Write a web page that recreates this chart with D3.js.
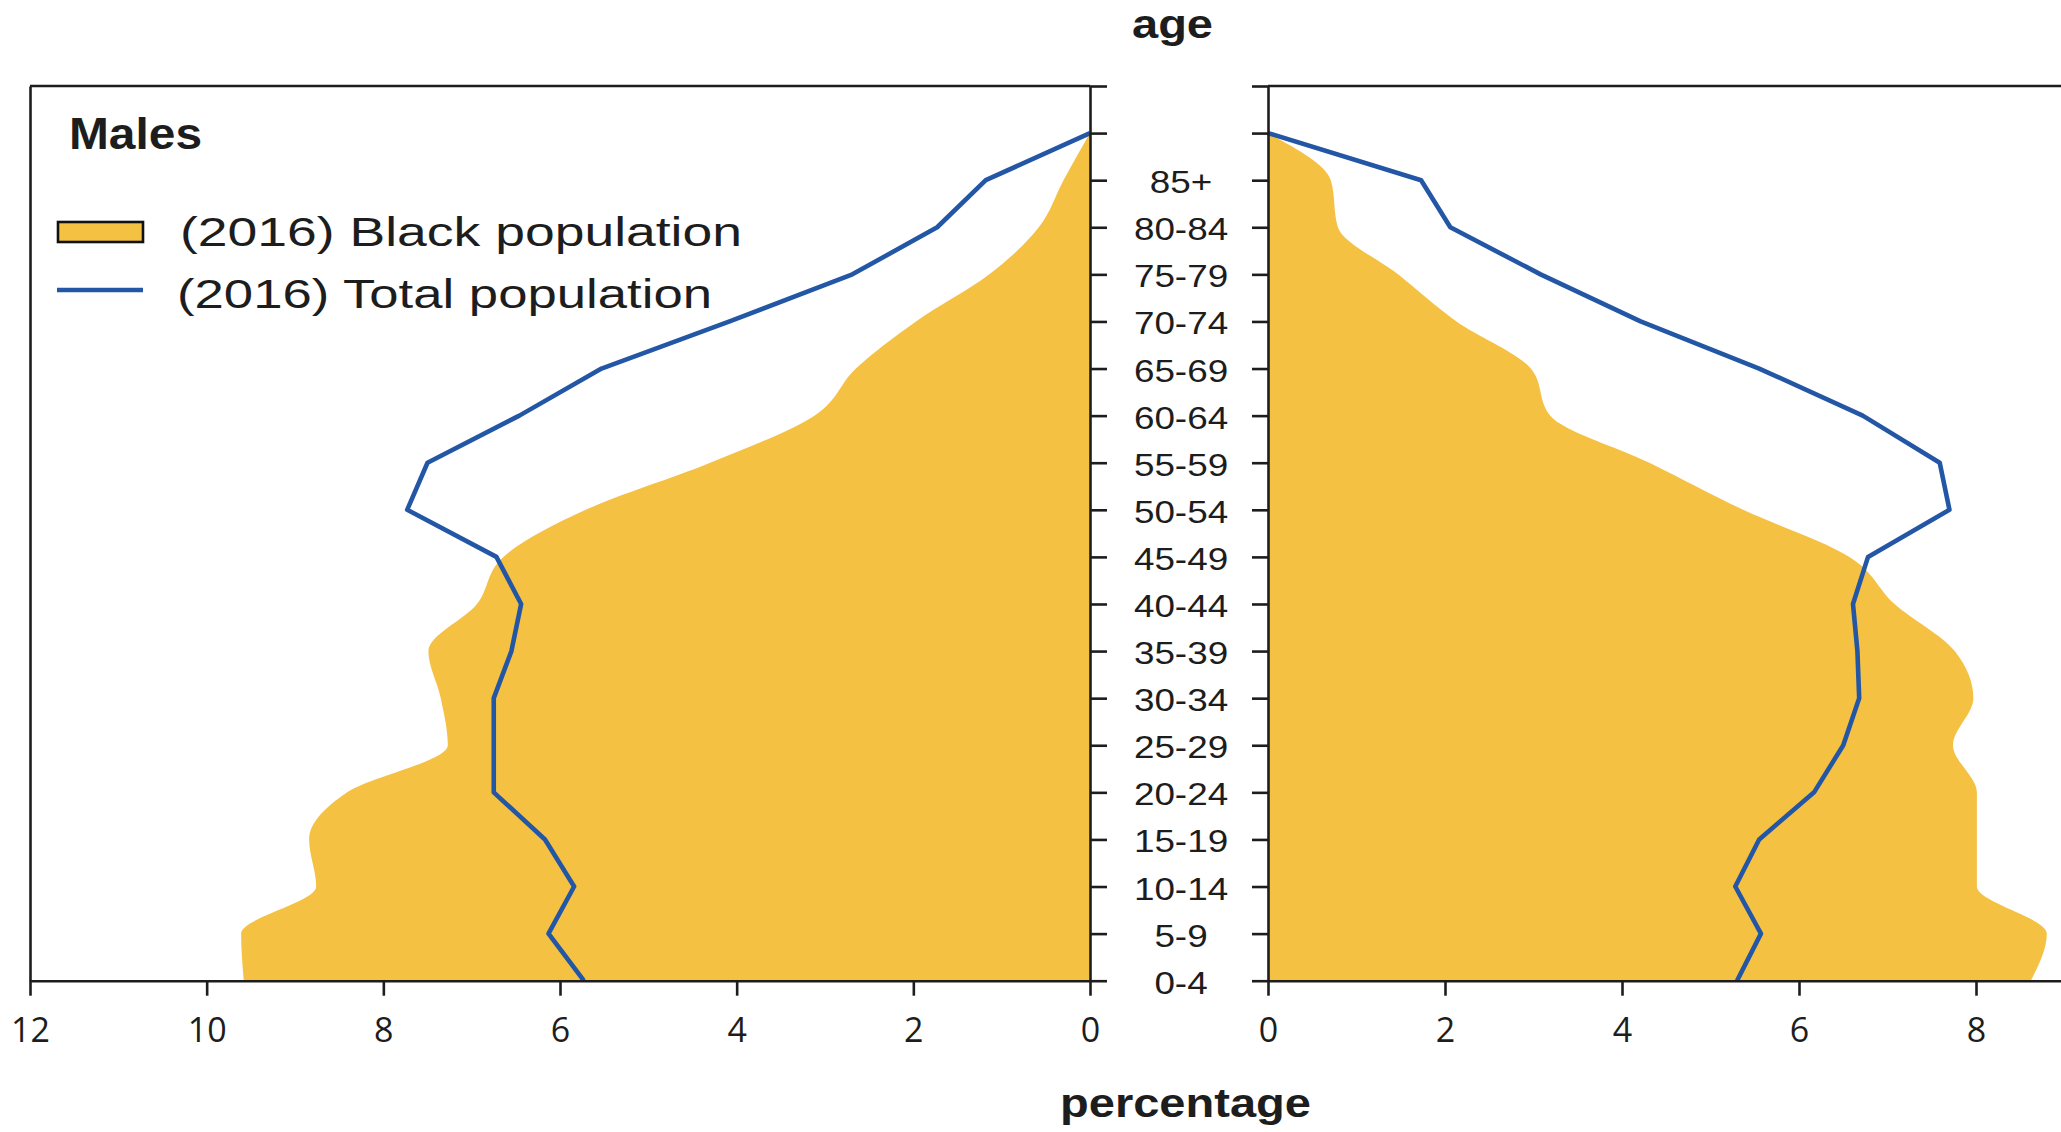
<!DOCTYPE html>
<html>
<head>
<meta charset="utf-8">
<script src="https://cdn.jsdelivr.net/npm/d3@7/dist/d3.min.js"></script>
<style>
  html, body { margin: 0; padding: 0; background: #fff; }
  svg { display: block; }
</style>
</head>
<body>
<svg id="chart" width="2061" height="1132"></svg>
<script>
// Age groups, bottom to top; the extra "" row is where both profiles close to zero.
const ageGroups = ["0-4","5-9","10-14","15-19","20-24","25-29","30-34","35-39","40-44",
                   "45-49","50-54","55-59","60-64","65-69","70-74","75-79","80-84","85+",""];

// Share of each age group (%), 2016
const maleBlack   = [9.58, 9.61, 8.76, 8.84, 8.41, 7.27, 7.35, 7.49, 6.94, 6.64, 5.71, 4.30, 3.12, 2.65, 1.97, 1.14, 0.58, 0.30, 0];
const maleTotal   = [5.73, 6.13, 5.84, 6.17, 6.75, 6.75, 6.75, 6.55, 6.44, 6.72, 7.73, 7.50, 6.46, 5.53, 4.08, 2.69, 1.73, 1.18, 0];
const femaleBlack = [8.62, 8.80, 8.01, 8.01, 8.01, 7.74, 7.97, 7.76, 7.08, 6.57, 5.37, 4.31, 3.19, 2.97, 2.13, 1.47, 0.79, 0.71, 0];
const femaleTotal = [5.30, 5.57, 5.28, 5.55, 6.17, 6.50, 6.68, 6.66, 6.61, 6.78, 7.70, 7.59, 6.72, 5.55, 4.21, 3.08, 2.06, 1.73, 0];

// Percentage ticks
const leftTicks  = [12, 10, 8, 6, 4, 2, 0];
const rightTicks = [0, 2, 4, 6, 8];

// Legend / titles
const panelTitle = "Males";
const legendLabels = ["(2016) Black population", "(2016) Total population"];
const yTitle = "age";
const xTitle = "percentage";

const YELLOW = "#f5c143";
const BLUE = "#2357a6";
const INK = "#1d1d1d";
const SANS = "'Liberation Sans', Arial, Helvetica, sans-serif";

const svg = d3.select("#chart");

// Row index → vertical position (index 19 is the frame top)
const y = d3.scaleLinear().domain([0, 19]).range([980.7, 86]);
const xL = d3.scaleLinear().domain([12, 0]).range([30, 1090]);
const xR = d3.scaleLinear().domain([0, 12]).range([1268, 2330]);

const rows = ageGroups.map((g, i) => i);

function drawPanel(x, black, total) {
  const g = svg.append("g");
  const area = d3.area()
    .y((d, i) => y(i))
    .x0(x(0))
    .x1(d => x(d))
    .curve(d3.curveMonotoneY);
  const line = d3.line()
    .y((d, i) => y(i))
    .x(d => x(d))
    .curve(d3.curveLinear);
  g.append("path").datum(black).attr("d", area).attr("fill", YELLOW);
  g.append("path").datum(total).attr("d", line)
    .attr("fill", "none").attr("stroke", BLUE).attr("stroke-width", 4.6)
    .attr("stroke-linejoin", "round");
  return g;
}

drawPanel(xL, maleBlack, maleTotal);
drawPanel(xR, femaleBlack, femaleTotal);

function styleAxis(sel) {
  sel.selectAll("path.domain").attr("stroke", INK).attr("stroke-width", 2.6);
  sel.selectAll(".tick line").attr("stroke", INK).attr("stroke-width", 2.6);
}

// Left panel: outer left border
svg.append("g").attr("transform", `translate(${xL(12)},0)`)
  .call(d3.axisLeft(y).tickValues([]).tickSizeOuter(0))
  .call(styleAxis);

// Left panel: top border
svg.append("line")
  .attr("x1", xL(12)).attr("x2", xL(0)).attr("y1", y(19)).attr("y2", y(19))
  .attr("stroke", INK).attr("stroke-width", 2.6);

// Left panel: age axis on the right edge
svg.append("g").attr("transform", `translate(${xL(0)},0)`)
  .call(d3.axisRight(y).tickValues(d3.range(0, 20)).tickSize(17).tickSizeOuter(0).tickFormat(""))
  .call(styleAxis);

// Right panel: age axis on the left edge
svg.append("g").attr("transform", `translate(${xR(0)},0)`)
  .call(d3.axisLeft(y).tickValues(d3.range(0, 20)).tickSize(16).tickSizeOuter(0).tickFormat(""))
  .call(styleAxis);

// Right panel: top border
svg.append("line")
  .attr("x1", xR(0)).attr("x2", xR(12)).attr("y1", y(19)).attr("y2", y(19))
  .attr("stroke", INK).attr("stroke-width", 2.6);

// Percentage axes
function pctAxis(scale, ticks) {
  const g = svg.append("g").attr("transform", `translate(0,${y(0)})`)
    .call(d3.axisBottom(scale).tickValues(ticks).tickSize(15).tickSizeOuter(0).tickFormat(d3.format("d")))
    .call(styleAxis);
  g.selectAll(".tick text")
    .attr("y", 61).attr("dy", 0)
    .attr("fill", INK)
    .style("font-family", "'Open Sans', 'Noto Sans', sans-serif")
    .style("font-size", "34px");
  return g;
}
pctAxis(xL, leftTicks);
pctAxis(xR, rightTicks);

// Age group labels between the panels
const labelX = (xL(0) + xR(0)) / 2 + 2;
svg.append("g").selectAll("text")
  .data(rows.filter(i => ageGroups[i] !== ""))
  .join("text")
  .attr("transform", i => `translate(${labelX},${y(i) + 13}) scale(1.17,1)`)
  .attr("text-anchor", "middle")
  .attr("fill", INK)
  .style("font-family", SANS)
  .style("font-size", "31.5px")
  .text(i => ageGroups[i]);

// Titles
svg.append("text")
  .attr("x", 1172.5).attr("y", 38)
  .attr("text-anchor", "middle")
  .attr("textLength", 81).attr("lengthAdjust", "spacingAndGlyphs")
  .attr("fill", INK)
  .style("font-family", SANS).style("font-size", "41px").style("font-weight", "bold")
  .text(yTitle);

svg.append("text")
  .attr("x", 1185.5).attr("y", 1117)
  .attr("text-anchor", "middle")
  .attr("textLength", 251).attr("lengthAdjust", "spacingAndGlyphs")
  .attr("fill", INK)
  .style("font-family", SANS).style("font-size", "40px").style("font-weight", "bold")
  .text(xTitle);

svg.append("text")
  .attr("x", 69).attr("y", 149)
  .attr("textLength", 133).attr("lengthAdjust", "spacingAndGlyphs")
  .attr("fill", INK)
  .style("font-family", SANS).style("font-size", "45px").style("font-weight", "bold")
  .text(panelTitle);

// Legend
const legend = svg.append("g");
legend.append("rect")
  .attr("x", 58).attr("y", 222).attr("width", 85).attr("height", 20)
  .attr("fill", YELLOW).attr("stroke", "#111").attr("stroke-width", 2.6);
legend.append("line")
  .attr("x1", 57).attr("x2", 143).attr("y1", 290).attr("y2", 290)
  .attr("stroke", BLUE).attr("stroke-width", 4.6);
const legendPos = [{x: 180, y: 246, w: 562}, {x: 177, y: 308, w: 535}];
legend.selectAll("text.lbl")
  .data(legendLabels)
  .join("text")
  .attr("class", "lbl")
  .attr("x", (d, i) => legendPos[i].x)
  .attr("y", (d, i) => legendPos[i].y)
  .attr("textLength", (d, i) => legendPos[i].w)
  .attr("lengthAdjust", "spacingAndGlyphs")
  .attr("fill", INK)
  .style("font-family", SANS).style("font-size", "41px")
  .text(d => d);
</script>
</body>
</html>
